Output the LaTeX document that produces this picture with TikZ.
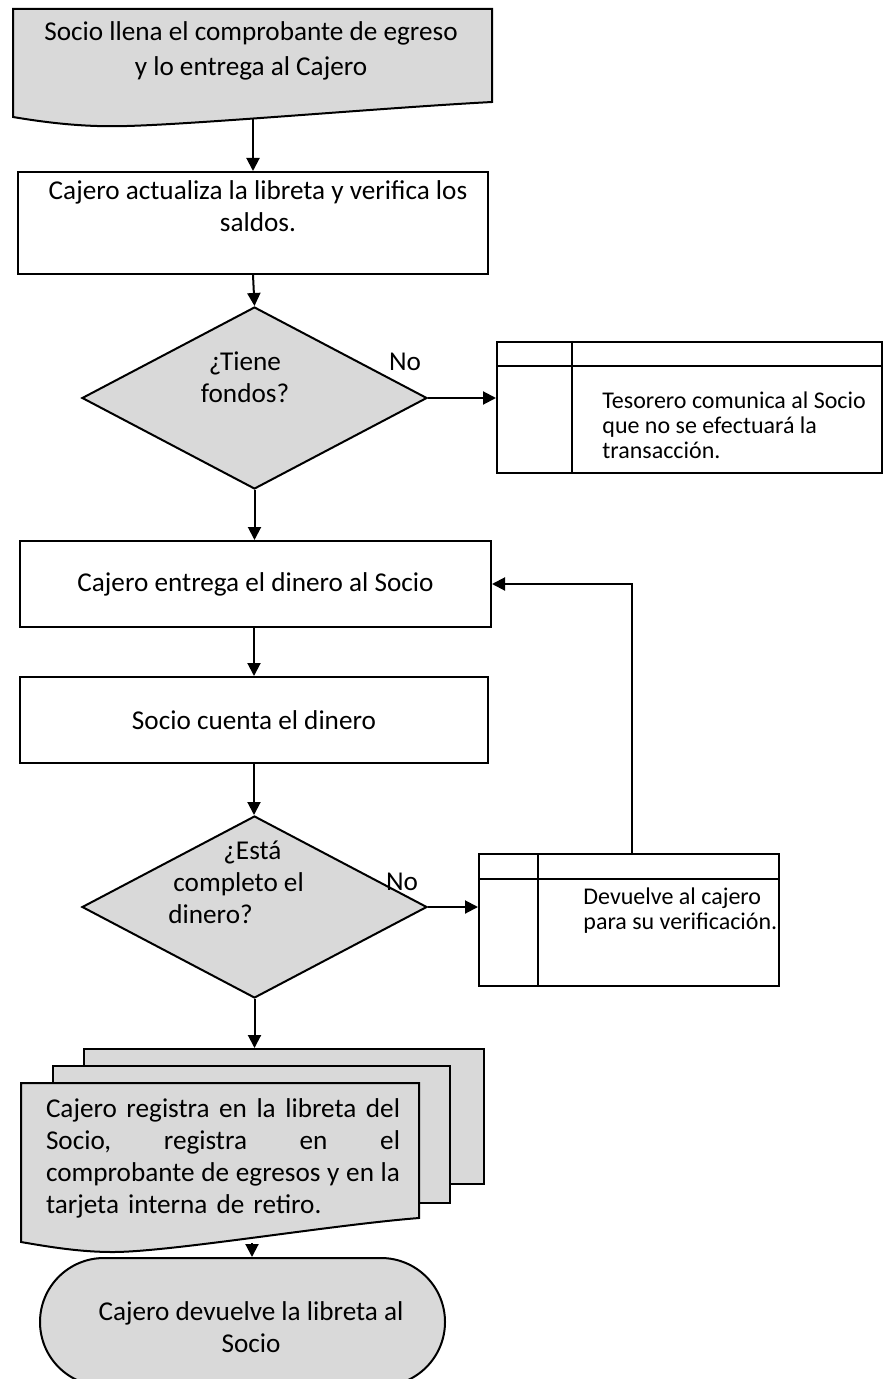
\documentclass[tikz,border=0pt]{standalone}
\usepackage{fontspec}
\setmainfont{Carlito}
\usepackage{xcolor}
\usepackage{tikz}
\usetikzlibrary{arrows.meta,positioning,shapes,calc}

\definecolor{shade}{HTML}{D9D9D9}

\begin{document}
\begin{tikzpicture}[x=0.5pt, y=-0.5pt,
  every node/.style={font=\fontsize{13.6}{16}\selectfont, inner sep=0pt},
  proc/.style={draw, line width=1pt, fill=white},
  decision/.style={draw, diamond, aspect=1.9, line width=1pt, fill=shade, minimum width=172.5pt, minimum height=91pt},
  shaded/.style={draw, line width=1pt, fill=shade},
  tbl/.style={draw, line width=1pt, fill=white},
  small/.style={font=\fontsize{12}{12.5}\selectfont, align=left, anchor=west},
  arr/.style={-{Triangle[length=6.5pt, width=6.5pt]}, line width=1pt}
]
\useasboundingbox (0,0) rectangle (884,1379);

% Solicitud del socio
\draw[shaded] (13,9) -- (492,9) -- (492,102) .. controls (380,108) and (200,124) .. (127,126)
  .. controls (95,127) and (60,125) .. (13,117) -- cycle;
\node[align=center, font=\fontsize{13.6}{17.5}\selectfont] (solicitud) at (251,51) {Socio llena el comprobante de egreso\\y lo entrega al Cajero};
\coordinate (solicitudBot) at (253,119);

\node[proc, minimum width=235pt, minimum height=51pt] (actualiza) at (253,223) {};
\node[align=center] (actualizaTxt) at (258,206) {Cajero actualiza la libreta y verifica los\\saldos.};
\draw[arr] (solicitudBot) -- (actualiza.north);

% Fondos
\node[decision] (fondos) at (254.5,398) {};
\node[align=center] (fondosTxt) at (245,377) {¿Tiene\\fondos?};
\draw[arr] (actualiza.south) -- (fondos.north);
\node (noFondos) at (405,362) {No};

\node[tbl, minimum width=192.5pt, minimum height=65.5pt] (tesorero) at (689.5,407.5) {};
\draw[line width=1pt] ($(tesorero.north west)+(0,25)$) -- ($(tesorero.north east)+(0,25)$);
\draw[line width=1pt] ($(tesorero.north west)+(76,0)$) -- ($(tesorero.south west)+(76,0)$);
\node[small] (tesoreroTxt) at (602,425) {Tesorero comunica al Socio\\que no se efectuará la\\transacción.};
\draw[arr] (fondos.east) -- (fondos.east -| tesorero.west);

% Entrega y conteo
\node[proc, minimum width=235.5pt, minimum height=43pt] (entrega) at (255.5,584) {Cajero entrega el dinero al Socio};
\draw[arr] (fondos.south) -- (fondos.south |- entrega.north);

\node[proc, minimum width=234pt, minimum height=43pt] (cuenta) at (254,720) {Socio cuenta el dinero};
\draw[arr] (cuenta.north |- entrega.south) -- (cuenta.north);

% Completo
\node[decision] (completo) at (254.5,907) {};
\node[align=left, anchor=west] (completoTxt) at (168,882) {\hspace*{27.5pt}¿Está\\\hspace*{2.5pt}completo el\\dinero?};
\draw[arr] (cuenta.south) -- (cuenta.south |- completo.north);
\node (noCompleto) at (402,882) {No};

\node[tbl, minimum width=150pt, minimum height=66pt] (devuelve) at (629,920) {};
\draw[line width=1pt] ($(devuelve.north west)+(0,26)$) -- ($(devuelve.north east)+(0,26)$);
\draw[line width=1pt] ($(devuelve.north west)+(60,0)$) -- ($(devuelve.south west)+(60,0)$);
\node[small] (devuelveTxt) at (583,911) {Devuelve al cajero\\para su verificación.};
\draw[arr] (completo.east) -- (completo.east -| devuelve.west);
\draw[arr] ($(devuelve.north)+(3,0)$) |- (entrega.east);

% Registro
\node[shaded, minimum width=200pt, minimum height=67.5pt] (hojaC) at (284,1116.5) {};
\node[shaded, minimum width=198.5pt, minimum height=68.5pt] (hojaB) at (251.5,1134.5) {};
\draw[shaded] (21,1083) -- (419,1083) -- (419,1218) .. controls (330,1225) and (170,1252) .. (113,1252)
  .. controls (80,1252) and (50,1247) .. (21,1242) -- cycle;
\node[align=left, text width=177pt] (registra) at (223,1158) {\makebox[177pt][l]{Cajero\hfill registra\hfill en\hfill la\hfill libreta\hfill del}\\\makebox[177pt][l]{Socio,\hfill registra\hfill en\hfill el}\\\makebox[177pt][l]{comprobante\hfill de\hfill egresos\hfill y\hfill en\hfill la}\\tarjeta interna de retiro.};
\draw[arr] (completo.south) -- (completo.south |- hojaC.north);
\coordinate (registraBot) at (252,1243);

% Fin
\node[shaded, rounded rectangle, minimum width=202.5pt, minimum height=64pt] (devuelveLib) at (242.5,1322) {};
\node[align=center] (devuelveLibTxt) at (251,1327) {Cajero devuelve la libreta al\\Socio};
\draw[arr] (registraBot) -- (registraBot |- devuelveLib.north);

\end{tikzpicture}
\end{document}
